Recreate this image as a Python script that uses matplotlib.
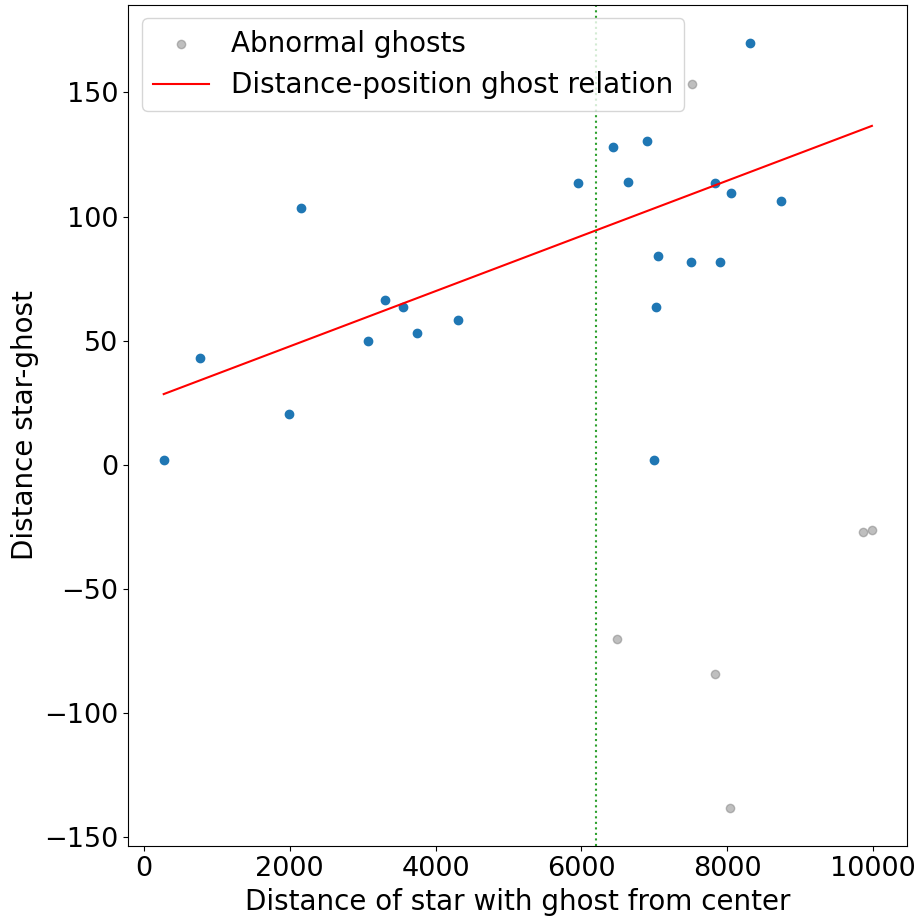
import matplotlib
matplotlib.use("Agg")
import matplotlib.pyplot as plt
import numpy as np

# normal ghosts: distance of star from center vs distance star-ghost
dist_center = [274, 778, 1994, 2150, 3078, 3311, 3553, 3745, 4307, 5949, 6429, 6640,
               6905, 8309, 7833, 8057, 8738, 7047, 7509, 7897, 7029, 6996]
dist_ghost = [2.1, 43.2, 20.6, 103.6, 49.9, 66.4, 63.4, 53.1, 58.3, 113.4, 128.1, 113.9,
              130.4, 170.0, 113.5, 109.7, 106.2, 84.2, 81.8, 81.9, 63.6, 2.1]

# abnormal ghosts
abn_center = [6494, 7838, 8038, 9859, 9982, 7513]
abn_ghost = [-70.1, -84.4, -138.3, -27.1, -26.4, 153.5]

# fitted relation
slope = 0.01113
intercept = 25.45
cut_x = 6206

fig = plt.figure(figsize=(9.23, 9.17), dpi=100)
ax = fig.add_axes([0.139, 0.077, 0.844, 0.918])

ax.scatter(dist_center, dist_ghost, color='C0')
ax.scatter(abn_center, abn_ghost, color='grey', alpha=0.5, label='Abnormal ghosts')
all_x = np.array(dist_center + abn_center)
xs = np.array([all_x.min(), all_x.max()])
ax.plot(xs, slope * xs + intercept, color='red', label='Distance-position ghost relation')
ax.axvline(cut_x, color='C2', linestyle=':')

ax.set_xlabel("Distance of star with ghost from center", fontsize=20)
ax.set_ylabel("Distance star-ghost", fontsize=20)
ax.tick_params(labelsize=19.5)
ax.legend(loc='upper left', fontsize=20)

fig.savefig("out.png")
